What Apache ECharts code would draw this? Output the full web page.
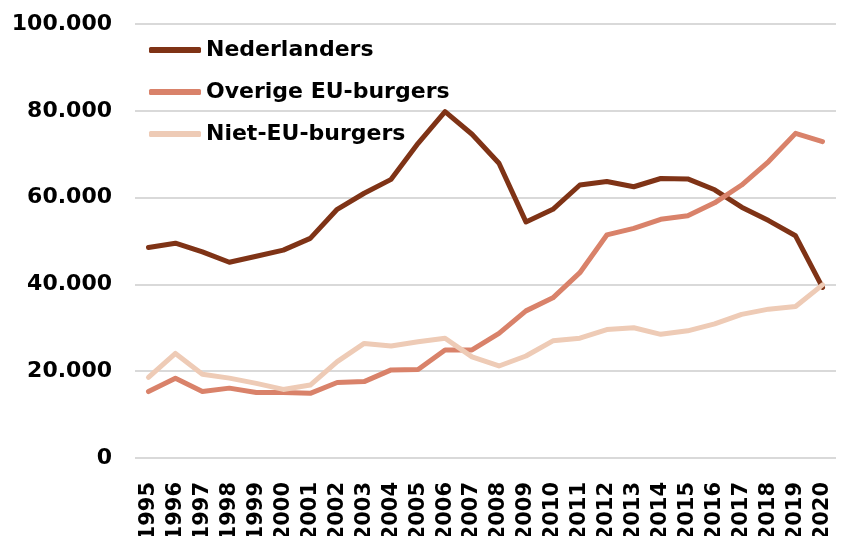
<!DOCTYPE html>
<html>
<head>
<meta charset="utf-8">
<script src="https://cdn.jsdelivr.net/npm/echarts@6/dist/echarts.min.js"></script>
<style>
  * { margin: 0; padding: 0; }
  body { background: #fff; }
</style>
</head>
<body>
<div id="main" style="width: 849px;height: 536px;"></div>
<script>
// jaren
var years = ['1995', '1996', '1997', '1998', '1999', '2000', '2001', '2002', '2003', '2004',
  '2005', '2006', '2007', '2008', '2009', '2010', '2011', '2012', '2013', '2014',
  '2015', '2016', '2017', '2018', '2019', '2020'];

var nederlanders = [48500, 49500, 47500, 45100, 46500, 47900, 50600, 57300, 61000, 64200,
  72500, 79800, 74600, 67900, 54400, 57300, 62900, 63700, 62500, 64400,
  64300, 61800, 57800, 54700, 51200, 39300];

var overigeEU = [15300, 18400, 15300, 16100, 15100, 15100, 14900, 17400, 17600, 20300,
  20400, 24900, 24900, 28700, 33900, 36900, 42700, 51400, 52900, 55000,
  55800, 58800, 62900, 68300, 74800, 72900];

var nietEU = [18600, 24100, 19300, 18400, 17200, 15800, 16800, 22200, 26400, 25800,
  26800, 27600, 23300, 21200, 23500, 27000, 27600, 29600, 30000, 28500,
  29300, 30900, 33100, 34300, 34900, 39900];

var seriesNames = ['Nederlanders', 'Overige EU-burgers', 'Niet-EU-burgers'];
var seriesColors = ['#7f3316', '#d9826a', '#eecbb6'];

var fontFam = 'DejaVu Sans';

function dots(v) {
  return String(v).replace(/\B(?=(\d{3})+(?!\d))/g, '.');
}

function lineSerie(name, data, color) {
  return {
    name: name,
    type: 'line',
    data: data,
    symbol: 'none',
    smooth: false,
    color: color,
    itemStyle: { color: color },
    lineStyle: { width: 5, color: color, cap: 'round', join: 'round' }
  };
}

var myChart = echarts.init(document.getElementById('main'));
myChart.setOption({
  animation: false,
  textStyle: { fontFamily: fontFam },
  grid: { left: 135, right: 13, top: 24, bottom: 78, outerBoundsMode: 'none' },
  legend: {
    orient: 'vertical',
    left: 149,
    top: 38,
    padding: 0,
    icon: 'roundRect',
    itemWidth: 52,
    itemHeight: 6,
    itemGap: 18,
    data: seriesNames,
    textStyle: { fontFamily: fontFam, fontSize: 22, fontWeight: 'bold', color: '#000', lineHeight: 24 }
  },
  xAxis: {
    type: 'category',
    data: years,
    boundaryGap: true,
    axisLine: { show: false },
    axisTick: { show: false },
    axisLabel: {
      rotate: 90,
      interval: 0,
      margin: 24,
      fontFamily: fontFam,
      fontSize: 21,
      fontWeight: 'bold',
      color: '#000'
    }
  },
  yAxis: {
    type: 'value',
    min: 0,
    max: 100000,
    interval: 20000,
    axisLine: { show: false },
    axisTick: { show: false },
    splitLine: { lineStyle: { color: '#d9d9d9', width: 2 } },
    axisLabel: {
      margin: 23,
      fontFamily: fontFam,
      fontSize: 22,
      fontWeight: 'bold',
      color: '#000',
      formatter: dots
    }
  },
  series: [
    lineSerie(seriesNames[0], nederlanders, seriesColors[0]),
    lineSerie(seriesNames[1], overigeEU, seriesColors[1]),
    lineSerie(seriesNames[2], nietEU, seriesColors[2])
  ]
});
</script>
</body>
</html>
